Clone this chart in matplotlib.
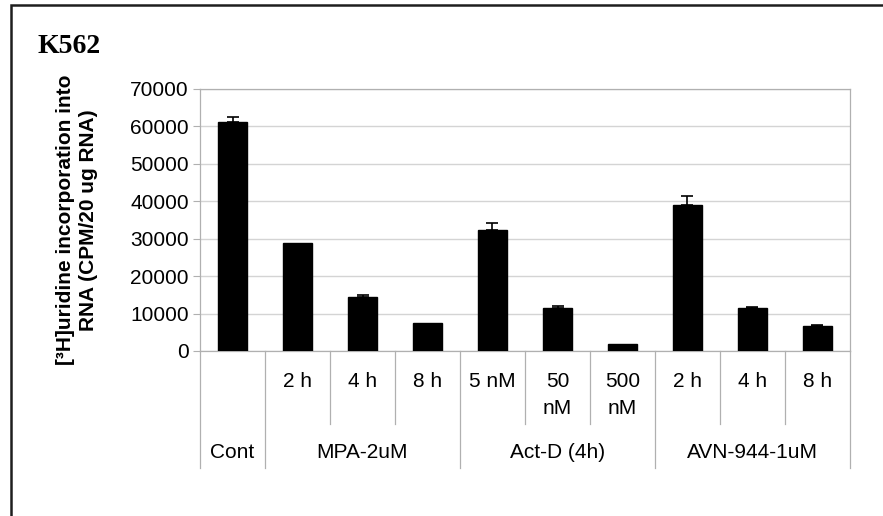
import numpy as np
import matplotlib
matplotlib.use('Agg')
import matplotlib.pyplot as plt
from matplotlib.transforms import blended_transform_factory
from matplotlib.patches import Rectangle


# uridine incorporation per condition
conditions = ['Cont', '2 h', '4 h', '8 h', '5 nM', '50\nnM', '500\nnM',
              '2 h', '4 h', '8 h']
values = [61300, 28800, 14500, 7500, 32300, 11400, 1800, 39000, 11400, 6600]
errors = [1200, 0, 400, 0, 1800, 700, 0, 2500, 400, 400]

groups = ['Cont', 'MPA-2uM', 'Act-D (4h)', 'AVN-944-1uM']
group_sizes = [1, 3, 3, 3]

y_ticks = [0, 10000, 20000, 30000, 40000, 50000, 60000, 70000]

plt.rcParams['font.family'] = ['Liberation Sans', 'DejaVu Sans']
fs = 15

W, H = 883, 516
fig = plt.figure(figsize=(W / 100, H / 100), dpi=100)
left, right, top, bottom = 200, 850, 89, 351
ax = fig.add_axes([left / W, 1 - bottom / H, (right - left) / W,
                   (bottom - top) / H])

grid_col = '#d4d4d4'
frame_col = '#b0b0b0'

x = np.arange(len(values))
ax.bar(x, values, width=0.45, color='black', edgecolor='black', zorder=3)

# upper error bars only, skip the ones with no spread
has_err = np.array(errors) > 0
err_up = np.array(errors)[has_err]
ax.errorbar(x[has_err], np.array(values)[has_err],
            yerr=[np.zeros(len(err_up)), err_up], fmt='none',
            ecolor='black', elinewidth=1.2, capsize=4.5, capthick=1.2,
            zorder=4)

ax.set_xlim(-0.5, len(values) - 0.5)
ax.set_ylim(0, 70000)
ax.set_yticks(y_ticks)
ax.set_yticklabels([str(t) for t in y_ticks], fontsize=fs)
ax.tick_params(axis='y', length=5, width=0.8, color=frame_col, pad=3)
ax.set_xticks([])
ax.yaxis.grid(True, color=grid_col, linewidth=1.0, zorder=0)
for side in ['left', 'right', 'top', 'bottom']:
    ax.spines[side].set_color(frame_col)
    ax.spines[side].set_linewidth(0.9)

# category table under the axis
trans = blended_transform_factory(ax.transData, ax.transAxes)
px = 1.0 / (bottom - top)
short_end = -(424 - bottom) * px
long_end = -(468 - bottom) * px

bounds = np.cumsum([0] + group_sizes) - 0.5
for b in np.arange(-0.5, len(values)):
    end = long_end if b in bounds else short_end
    ax.plot([b, b], [0, end], color=frame_col, linewidth=0.9,
            transform=trans, clip_on=False)

for i, lab in enumerate(conditions):
    if i == 0:
        continue
    ax.text(i, -(372 - bottom) * px, lab, transform=trans, ha='center',
            va='top', fontsize=fs, linespacing=1.5)

for g, lab in enumerate(groups):
    center = (bounds[g] + bounds[g + 1]) / 2
    ax.text(center, -(453 - bottom) * px, lab, transform=trans,
            ha='center', va='center', fontsize=fs)

fig.text(77 / W, 1 - 220 / H,
         '[\u00b3H]uridine incorporation into\nRNA (CPM/20 ug RNA)',
         rotation=90, ha='center', va='center', fontsize=fs,
         fontweight='bold', multialignment='center', linespacing=1.3)

fig.text(37 / W, 1 - 53 / H, 'K562', family='Liberation Serif',
         fontweight='bold', fontsize=20, va='baseline', ha='left')

# outer frame, open to the right and bottom
fig.patches.append(Rectangle((11 / W, -0.1), 1.2, 1.1 - 5 / H,
                             transform=fig.transFigure, fill=False,
                             edgecolor='#1e1e1e', linewidth=1.8))

fig.savefig('out.png', dpi=100)
